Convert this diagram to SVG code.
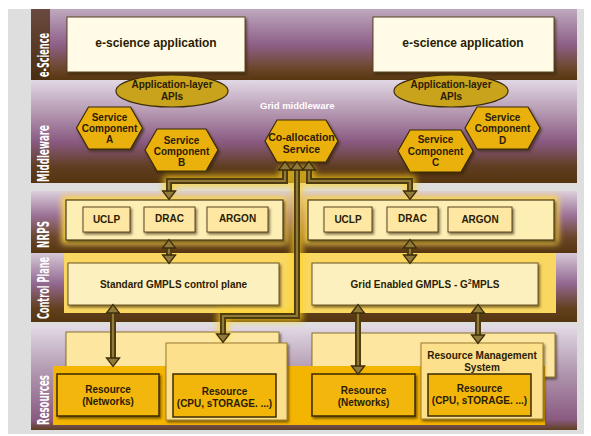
<svg xmlns="http://www.w3.org/2000/svg" width="591" height="436" viewBox="0 0 591 436">
<defs>
<linearGradient id="gE" x1="0" y1="0" x2="0" y2="1"><stop offset="0" stop-color="#bfa9bf"/><stop offset="0.5" stop-color="#8e6088"/><stop offset="0.85" stop-color="#6a4528"/><stop offset="1" stop-color="#573710"/></linearGradient>
<linearGradient id="gEs" x1="0" y1="0" x2="0" y2="1"><stop offset="0" stop-color="#6a4a40"/><stop offset="1" stop-color="#4a2e10"/></linearGradient>
<linearGradient id="gM" x1="0" y1="0" x2="0" y2="1"><stop offset="0" stop-color="#e2d8e4"/><stop offset="0.3" stop-color="#b79bb4"/><stop offset="0.6" stop-color="#8a5a82"/><stop offset="0.85" stop-color="#5e3c1e"/><stop offset="1" stop-color="#553510"/></linearGradient>
<linearGradient id="gN" x1="0" y1="0" x2="0" y2="1"><stop offset="0" stop-color="#dccfdc"/><stop offset="0.4" stop-color="#9a7095"/><stop offset="0.75" stop-color="#6a4528"/><stop offset="1" stop-color="#553510"/></linearGradient>
<linearGradient id="gC" x1="0" y1="0" x2="0" y2="1"><stop offset="0" stop-color="#d6c8d6"/><stop offset="0.45" stop-color="#926790"/><stop offset="0.8" stop-color="#62401e"/><stop offset="1" stop-color="#553510"/></linearGradient>
<linearGradient id="gR" x1="0" y1="0" x2="0" y2="1"><stop offset="0" stop-color="#e2dae4"/><stop offset="0.45" stop-color="#b096ae"/><stop offset="0.9" stop-color="#8a5a82"/><stop offset="1" stop-color="#5e4020"/></linearGradient>
<filter id="sh" x="-20%" y="-20%" width="140%" height="150%"><feDropShadow dx="1.5" dy="2" stdDeviation="1.2" flood-color="#2a1a00" flood-opacity="0.6"/></filter>
<filter id="glow" x="-30%" y="-30%" width="160%" height="160%"><feGaussianBlur stdDeviation="3"/></filter>
<marker id="ah" markerUnits="userSpaceOnUse" viewBox="-1 -8 11 16" refX="0" refY="0" markerWidth="11" markerHeight="16" orient="auto-start-reverse"><polygon points="0,-6.5 8.5,0 0,6.5" fill="#8f7a3a" stroke="#3e2e0a" stroke-width="1.3" stroke-linejoin="miter"/></marker>
</defs>
<style>
text{font-family:"Liberation Sans",Arial,sans-serif;font-weight:bold;fill:#2a1c05;text-anchor:middle}
.lbl{font-family:"DejaVu Sans Condensed","Liberation Sans Narrow",sans-serif;font-size:15px;fill:#ffffff;text-anchor:start}
.t12{font-size:12px}
.t10{font-size:10px}
.box{stroke:#5a4520;stroke-width:1}
.hex{fill:#eab10e;stroke:#3a2a05;stroke-width:1.2}
.api{fill:#c9a31c;stroke:#3d2c08;stroke-width:1.2}
.res{fill:#f2b60a;stroke:#3a2a05;stroke-width:1.5}
.c-glow{fill:none;stroke:#ffd21a;stroke-width:11;opacity:0.75;filter:url(#glow)}
.c-out{fill:none;stroke:#4e3b0e;stroke-width:6}
.c-in{fill:none;stroke:#8f7a3a;stroke-width:2.2}
.c-m{fill:none;stroke:none;marker-start:url(#ah);marker-end:url(#ah)}
</style>
<rect x="0" y="0" width="591" height="436" fill="#ffffff"/>
<rect x="8" y="9" width="576" height="425" fill="#dedede"/>
<g id="bands">
<rect x="31" y="9" width="546" height="71" fill="url(#gE)"/>
<rect x="31" y="9" width="19" height="71" fill="url(#gEs)"/>
<rect x="31" y="80" width="546" height="103" fill="url(#gM)"/>
<rect x="31" y="191" width="546" height="62" fill="url(#gN)"/>
<rect x="31" y="253" width="546" height="69" fill="url(#gC)"/>
<rect x="31" y="326" width="546" height="104" fill="url(#gR)"/>
<text class="lbl" transform="translate(49,77) rotate(-90)" textLength="44" lengthAdjust="spacingAndGlyphs">e-Science</text>
<text class="lbl" transform="translate(49,182) rotate(-90)" textLength="57" lengthAdjust="spacingAndGlyphs">Middleware</text>
<text class="lbl" transform="translate(49,248) rotate(-90)" textLength="27" lengthAdjust="spacingAndGlyphs">NRPS</text>
<text class="lbl" transform="translate(49,319) rotate(-90)" textLength="62" lengthAdjust="spacingAndGlyphs">Control Plane</text>
<text class="lbl" transform="translate(49,425) rotate(-90)" textLength="50" lengthAdjust="spacingAndGlyphs">Resources</text>
<text x="260" y="109" style="font-size:9.5px;fill:#ffffff;text-anchor:start">Grid middleware</text>
</g>
<g id="glows">
<rect x="62" y="196" width="225" height="48" fill="#ffd84a" filter="url(#glow)"/>
<rect x="304" y="196" width="254" height="48" fill="#ffd84a" filter="url(#glow)"/>
</g>
<g id="escience-left"><rect class="box" x="67" y="17" width="178" height="55" fill="#fffbe6" filter="url(#sh)"/><text class="t12" x="156" y="47">e-science application</text></g>
<g id="escience-right"><rect class="box" x="373" y="17" width="181" height="55" fill="#fffbe6" filter="url(#sh)"/><text class="t12" x="463" y="47">e-science application</text></g>
<g id="api-left"><ellipse class="api" cx="172" cy="91" rx="56" ry="16"/><text class="t10" x="172" y="88">Application-layer</text><text class="t10" x="172" y="100">APIs</text></g>
<g id="api-right"><ellipse class="api" cx="451" cy="91" rx="57" ry="16"/><text class="t10" x="451" y="88">Application-layer</text><text class="t10" x="451" y="100">APIs</text></g>
<g id="sc-a"><polygon class="hex" points="76.5,128 88.5,107 130.5,107 142.5,128 130.5,149 88.5,149" filter="url(#sh)"/><text class="t10" x="109.5" y="120.5">Service</text><text class="t10" x="109.5" y="131.5">Component</text><text class="t10" x="109.5" y="142.5">A</text></g>
<g id="sc-b"><polygon class="hex" points="145,150 157,129 206,129 218,150 206,171 157,171" filter="url(#sh)"/><text class="t10" x="181.5" y="143.5">Service</text><text class="t10" x="181.5" y="155">Component</text><text class="t10" x="181.5" y="166">B</text></g>
<g id="coalloc"><polygon class="hex" points="265,141 277,120 326,120 338,141 326,162 277,162" filter="url(#sh)"/><text class="t10" x="301.5" y="140.5" style="font-size:10.5px">Co-allocation</text><text class="t10" x="301.5" y="152.5" style="font-size:10.5px">Service</text></g>
<g id="sc-c"><polygon class="hex" points="398,151 410,130 461,130 473,151 461,172 410,172" filter="url(#sh)"/><text class="t10" x="435.5" y="142.5">Service</text><text class="t10" x="435.5" y="154.5">Component</text><text class="t10" x="435.5" y="165.5">C</text></g>
<g id="sc-d"><polygon class="hex" points="465,128 477,107 528,107 540,128 528,149 477,149" filter="url(#sh)"/><text class="t10" x="502.5" y="120.5">Service</text><text class="t10" x="502.5" y="132">Component</text><text class="t10" x="502.5" y="143.5">D</text></g>
<g id="nrps-left">
<rect x="66" y="200" width="217" height="40" fill="#fdeeb4" stroke="#4a3a18" stroke-width="1.2" filter="url(#sh)"/>
<rect class="box" x="83" y="207" width="47" height="25" fill="#fde7a2" filter="url(#sh)"/><text class="t10" x="106.5" y="223">UCLP</text>
<rect class="box" x="144" y="207" width="51" height="25" fill="#fde7a2" filter="url(#sh)"/><text class="t10" x="169.5" y="222">DRAC</text>
<rect class="box" x="207" y="207" width="61" height="25" fill="#fde7a2" filter="url(#sh)"/><text class="t10" x="237.5" y="222">ARGON</text>
</g>
<g id="nrps-right">
<rect x="308" y="200" width="246" height="40" fill="#fdeeb4" stroke="#4a3a18" stroke-width="1.2" filter="url(#sh)"/>
<rect class="box" x="324" y="207" width="48" height="25" fill="#fde7a2" filter="url(#sh)"/><text class="t10" x="348" y="223">UCLP</text>
<rect class="box" x="387" y="207" width="51" height="25" fill="#fde7a2" filter="url(#sh)"/><text class="t10" x="412.5" y="222">DRAC</text>
<rect class="box" x="448" y="207" width="64" height="25" fill="#fde7a2" filter="url(#sh)"/><text class="t10" x="480" y="223">ARGON</text>
</g>
<g id="cp-left">
<rect x="64" y="253" width="232" height="60" fill="#f9d760"/>
<rect x="68" y="263" width="211" height="42" fill="#fdf0bf" stroke="#6a5525" stroke-width="1" filter="url(#sh)"/>
<text class="t10" x="173.5" y="287.5">Standard GMPLS control plane</text>
</g>
<g id="cp-right">
<rect x="300" y="253" width="256" height="60" fill="#f9d760"/>
<rect x="312" y="263" width="226" height="42" fill="#fdf0bf" stroke="#6a5525" stroke-width="1" filter="url(#sh)"/>
<text class="t10" x="425" y="287.5">Grid Enabled GMPLS - G<tspan dy="-4" style="font-size:7px">2</tspan><tspan dy="4">MPLS</tspan></text>
</g>
<g id="res-panels">
<rect x="66" y="332" width="213" height="48" fill="#fde7a0" stroke="#8a7030" stroke-width="1" filter="url(#sh)"/>
<rect x="312" y="333" width="243" height="44" fill="#fde7a0" stroke="#8a7030" stroke-width="1" filter="url(#sh)"/>
<rect x="53" y="366" width="492" height="59" fill="#f4b500"/>
</g>
<g id="res-net-left"><rect class="res" x="57" y="374" width="102" height="42" filter="url(#sh)"/><text class="t10" x="108" y="392.5">Resource</text><text class="t10" x="108" y="404.5">(Networks)</text></g>
<g id="res-cpu-left"><rect x="166" y="343" width="121" height="77" fill="#fce08c" stroke="#9a7a30" stroke-width="1" filter="url(#sh)"/><rect class="res" x="173" y="374" width="103" height="43"/><text class="t10" x="224.5" y="394.5">Resource</text><text class="t10" x="224.5" y="406.5">(CPU, sTORAGE. ...)</text></g>
<g id="res-net-right"><rect class="res" x="312" y="374" width="103" height="42" filter="url(#sh)"/><text class="t10" x="363.5" y="393.5">Resource</text><text class="t10" x="363.5" y="405.5">(Networks)</text></g>
<g id="rms"><rect x="421" y="343" width="122" height="76" fill="#fce08c" stroke="#9a7a30" stroke-width="1" filter="url(#sh)"/><text class="t10" x="482" y="358.5">Resource Management</text><text class="t10" x="482" y="370.5">System</text><rect class="res" x="428" y="374" width="103" height="42"/><text class="t10" x="479.5" y="391.5">Resource</text><text class="t10" x="479.5" y="403.5">(CPU, sTORAGE. ...)</text></g>
<g id="connectors">
<path class="c-glow" d="M285,166 V181 H169 V195 M297,166 V316 H223 V338 M309,166 V181 H410 V195"/>
<path class="c-out" d="M169,248 V255 M410,248 V255 M113,313 V358 M358,313 V366 M478,313 V335 M285,170 V181 H169 V191 M297,170 V316 H223 V334 M309,170 V181 H410 V191"/>
<path class="c-in" d="M169,248 V255 M410,248 V255 M113,313 V358 M358,313 V366 M478,313 V335 M285,170 V181 H169 V191 M297,170 V316 H223 V334 M309,170 V181 H410 V191"/>
<path class="c-m" d="M169,248 V255"/>
<path class="c-m" d="M410,248 V255"/>
<path class="c-m" d="M113,313 V358"/>
<path class="c-m" d="M358,313 V366"/>
<path class="c-m" d="M478,313 V335"/>
<path class="c-m" d="M285,170 V181 H169 V191"/>
<path class="c-m" d="M297,170 V316 H223 V334"/>
<path class="c-m" d="M309,170 V181 H410 V191"/>
</g>
</svg>
